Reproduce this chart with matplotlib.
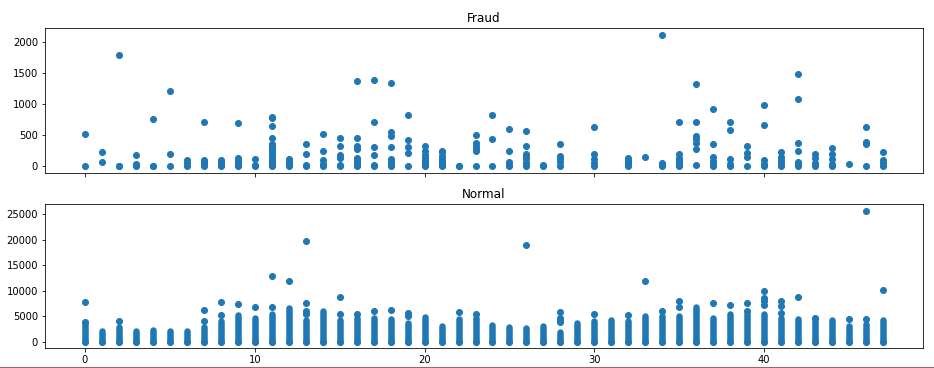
import numpy as np
import matplotlib
matplotlib.use("Agg")
import matplotlib.pyplot as plt
from matplotlib.lines import Line2D

# Fraud: amount of every fraudulent transaction, per hour (0..47)
fraud_amounts = [
    [0, 520], [60, 230], [0, 5, 1800], [0, 10, 40, 175], [0, 5, 760],
    [0, 190, 1210], [0, 45, 100], [0, 30, 60, 100, 720], [0, 30, 60, 100],
    [0, 30, 60, 90, 130, 700], [0, 10, 120],
    [0, 20, 50, 80, 120, 160, 200, 240, 280, 320, 350, 450, 640, 780, 800],
    [0, 30, 60, 120], [0, 20, 200, 360], [0, 30, 100, 250, 520],
    [0, 20, 130, 180, 320, 450], [0, 20, 60, 100, 130, 280, 320, 460, 1380],
    [0, 10, 180, 300, 720, 1390], [0, 30, 60, 120, 310, 490, 550, 1350],
    [0, 210, 310, 420, 820], [0, 20, 50, 80, 130, 180, 240, 320],
    [0, 20, 50, 80, 120, 170, 220, 250], [0, 5],
    [0, 250, 280, 330, 370, 505], [0, 440, 820], [0, 20, 60, 250, 600],
    [0, 50, 110, 160, 200, 320, 560], [0, 10], [0, 60, 120, 170, 350],
    [], [0, 50, 120, 200, 630], [], [0, 30, 60, 100, 130], [140],
    [0, 20, 50, 2120], [0, 30, 60, 100, 130, 200, 720],
    [10, 280, 370, 430, 480, 720, 1320], [0, 40, 80, 140, 350, 930],
    [0, 30, 110, 590, 720], [0, 150, 210, 320], [0, 40, 100, 660, 990],
    [0, 50, 100, 140, 230], [0, 30, 60, 250, 370, 1090, 1490],
    [0, 50, 130, 200], [0, 40, 110, 190, 290], [25], [0, 360, 390, 630],
    [0, 50, 90, 235],
]

# Normal: the bulk of each hour forms a solid column from 0 up to normal_top,
# normal_extra are the separate points above it
normal_top = [
    3500, 2100, 2800, 2100, 2300, 2100, 2100, 2900, 4060, 5200,
    4700, 5350, 6640, 4190, 6000, 4190, 4700, 4700, 4390, 3740,
    4840, 3160, 4390, 4700, 3290, 2900, 2650, 3100, 2000, 3680,
    4060, 4260, 4060, 5030, 5030, 5030, 6770, 4580, 5350, 5350,
    5350, 4700, 4390, 4200, 4190, 3100, 3420, 4190,
]
normal_extra = [
    [3900, 7700], [], [4050], [], [], [], [], [4060, 6130], [5200, 7800], [7420],
    [6900], [6770, 12960], [11870], [5480, 6000, 7680, 19670], [], [5420, 8840],
    [5420], [6000], [6320], [5030, 5550], [], [], [5800], [5420], [], [],
    [18900], [], [3800, 4200, 4700, 5800], [], [5420], [], [5160], [11870],
    [6000], [6770, 7930], [], [7680], [7160], [6000, 7680],
    [7160, 7930, 8580, 10000], [5680, 6970, 7930], [8840], [4580], [],
    [4450], [4450, 25700], [10130],
]

hours = np.arange(48)
blue = "#1f77b4"

fig, (ax1, ax2) = plt.subplots(2, 1, sharex=True, figsize=(934 / 72, 368 / 72), dpi=72)
fig.subplots_adjust(left=0.0482, right=0.9882, top=0.923, bottom=0.0535, hspace=0.218)

fx = [h for h, vals in zip(hours, fraud_amounts) for _ in vals]
fy = [v for vals in fraud_amounts for v in vals]
ax1.scatter(fx, fy, color=blue)
ax1.set_title("Fraud")

ax2.vlines(hours, 0, normal_top, color=blue, linewidth=6.5, capstyle="round")
nx = [h for h, vals in zip(hours, normal_extra) for _ in vals]
ny = [v for vals in normal_extra for v in vals]
ax2.scatter(np.concatenate([hours, nx]), np.concatenate([np.zeros(48), ny]), color=blue)
ax2.set_title("Normal")

# thin border line at the very bottom of the screenshot
fig.add_artist(Line2D([0, 1], [1.5 / 368, 1.5 / 368], transform=fig.transFigure,
                      color="#a86060", linewidth=1))

fig.savefig("out.png", dpi=72)
